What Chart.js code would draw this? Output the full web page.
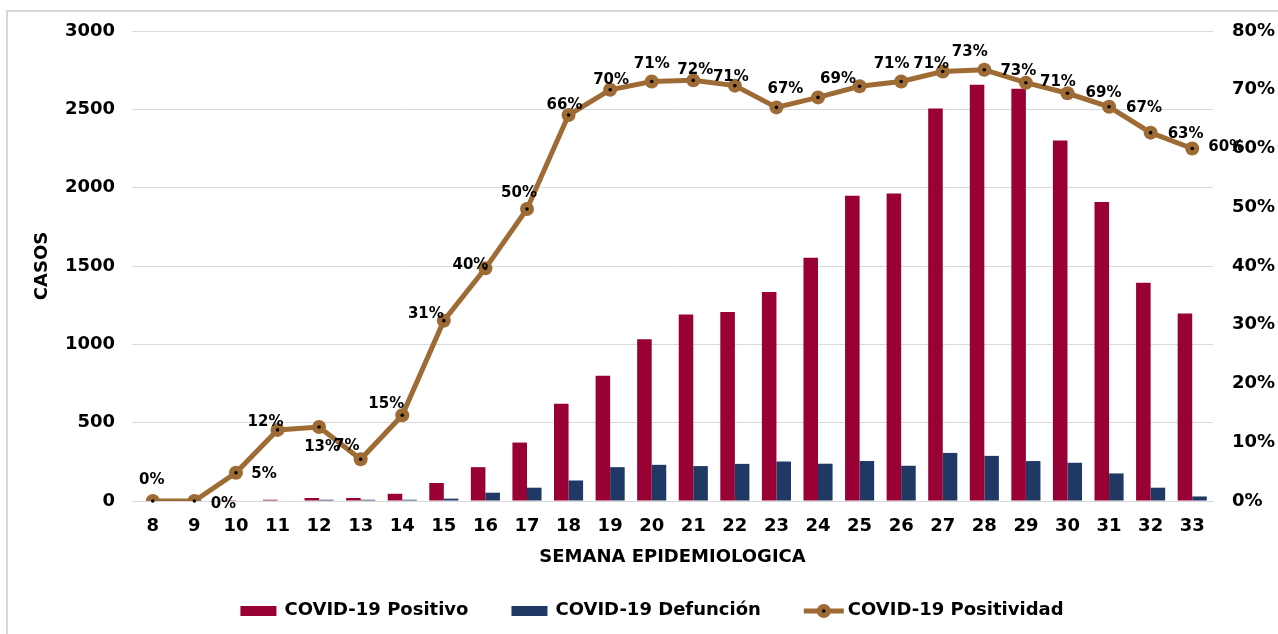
<!DOCTYPE html>
<html>
<head>
<meta charset="utf-8">
<script src="https://cdn.jsdelivr.net/npm/chart.js@4.4.0/dist/chart.umd.min.js"></script>
<style>
    html, body { margin: 0; padding: 0; background: #fff; }
    #marco { position: absolute; left: 6px; top: 10px; width: 1272px; height: 624px; border-left: 2px solid #d9d9d9; border-top: 2px solid #d9d9d9; box-sizing: border-box; }
    #contenedor { position: absolute; left: 0; top: 0; width: 1278px; height: 634px; }
</style>
</head>
<body>
<div id="marco"></div>
<div id="contenedor"><canvas id="myChart"></canvas></div>
<script>
// semanas epidemiologicas
var semanas = ['8', '9', '10', '11', '12', '13', '14', '15', '16', '17', '18', '19', '20',
    '21', '22', '23', '24', '25', '26', '27', '28', '29', '30', '31', '32', '33'];

// casos (eje izquierdo)
var positivo = [0, 0, 1, 8, 19, 19, 46, 115, 216, 373, 620, 800, 1032,
    1191, 1206, 1334, 1553, 1948, 1963, 2505, 2657, 2632, 2301, 1908, 1393, 1197];
var defuncion = [0, 0, 0, 0, 8, 8, 8, 15, 53, 85, 131, 216, 231,
    223, 237, 252, 238, 255, 225, 307, 288, 255, 244, 176, 85, 29];

// positividad en % (eje derecho)
var positividad = [0, 0, 4.8, 12.1, 12.6, 7.1, 14.6, 30.7, 39.6, 49.7, 65.7, 70.0, 71.4,
    71.6, 70.7, 67.0, 68.7, 70.6, 71.4, 73.1, 73.4, 71.2, 69.4, 67.1, 62.7, 60.0];

// ejes
var maxCasos = 3000, pasoCasos = 500;
var maxPct = 80, pasoPct = 10;

// donde va cada etiqueta de % respecto a su punto (dx, dy)
var desplazaEtiqueta = [[-1, -22], [29, 2], [28, 0], [-12, -9], [3, 19], [-14, -14], [-16, -12],
    [-18, -8], [-15, -4], [-8, -17], [-4, -11], [1, -11], [0, -18], [2, -11], [-4, -10],
    [9, -19], [20, -19], [32, -23], [30, -18], [27, -20], [34, 0], [32, -2], [36, -1],
    [35, 0], [35, 0], [34, -2]];

var fuente = '"DejaVu Sans", sans-serif';
var colorPositivo = '#990033';
var colorDefuncion = '#203864';
var colorLinea = '#9E6B35';

var etiquetas = {
    id: 'etiquetas',
    afterDatasetsDraw: function (chart) {
        var ctx = chart.ctx;
        var meta = chart.getDatasetMeta(2);
        ctx.save();
        ctx.fillStyle = '#000';
        meta.data.forEach(function (pt) {
            ctx.beginPath();
            ctx.arc(pt.x, pt.y, 1.8, 0, Math.PI * 2);
            ctx.fill();
        });
        ctx.font = 'bold 15px ' + fuente;
        ctx.textAlign = 'center';
        ctx.textBaseline = 'middle';
        meta.data.forEach(function (pt, i) {
            var d = desplazaEtiqueta[i];
            ctx.fillText(Math.round(positividad[i]) + '%', pt.x + d[0], pt.y + d[1] + 1);
        });
        ctx.restore();
    }
};

var leyenda = {
    id: 'leyenda',
    afterDraw: function (chart) {
        var ctx = chart.ctx;
        var ds = chart.data.datasets;
        var y = 611;
        var hueco = 43;
        ctx.save();
        ctx.font = 'bold 18px ' + fuente;
        ctx.textBaseline = 'middle';
        ctx.textAlign = 'left';
        var anchos = ds.map(function (d) { return 40 + 4 + ctx.measureText(d.label).width; });
        var total = anchos.reduce(function (a, b) { return a + b; }, 0) + hueco * (ds.length - 1);
        var x = 652 - total / 2;
        ds.forEach(function (d, i) {
            if (d.type === 'line') {
                ctx.strokeStyle = colorLinea;
                ctx.lineWidth = 5;
                ctx.beginPath();
                ctx.moveTo(x, y);
                ctx.lineTo(x + 40, y);
                ctx.stroke();
                ctx.fillStyle = colorLinea;
                ctx.beginPath();
                ctx.arc(x + 20, y, 7, 0, Math.PI * 2);
                ctx.fill();
                ctx.fillStyle = '#000';
                ctx.beginPath();
                ctx.arc(x + 20, y, 1.8, 0, Math.PI * 2);
                ctx.fill();
            } else {
                ctx.fillStyle = d.backgroundColor;
                ctx.fillRect(x, y - 5, 36, 10);
            }
            ctx.fillStyle = '#000';
            ctx.fillText(d.label, x + 44, y - 1);
            x += anchos[i] + hueco;
        });
        ctx.restore();
    }
};

var ctx = document.getElementById('myChart').getContext('2d');
new Chart(ctx, {
    type: 'bar',
    data: {
        labels: semanas,
        datasets: [{
            label: 'COVID-19 Positivo',
            data: positivo,
            backgroundColor: colorPositivo,
            yAxisID: 'y',
            order: 2
        },
        {
            label: 'COVID-19 Defunción',
            data: defuncion,
            backgroundColor: colorDefuncion,
            yAxisID: 'y',
            order: 2
        },
        {
            type: 'line',
            label: 'COVID-19 Positividad',
            data: positividad,
            borderColor: colorLinea,
            backgroundColor: colorLinea,
            borderWidth: 5,
            pointRadius: 7,
            pointBorderWidth: 0,
            pointBackgroundColor: colorLinea,
            tension: 0,
            yAxisID: 'y1',
            order: 0
        }]
    },
    options: {
        responsive: true,
        maintainAspectRatio: false,
        animation: false,
        layout: { padding: { top: 31, bottom: 58, left: 0, right: 0 } },
        datasets: {
            bar: { categoryPercentage: 0.7, barPercentage: 1.0 }
        },
        plugins: {
            legend: { display: false },
            tooltip: { enabled: false }
        },
        scales: {
            x: {
                grid: { display: false, drawTicks: false },
                border: { color: '#d9d9d9', width: 1 },
                ticks: { color: '#000', font: { family: fuente, size: 18, weight: 'bold' }, padding: 15, maxRotation: 0 },
                title: {
                    display: true, text: 'SEMANA EPIDEMIOLOGICA', color: '#000',
                    font: { family: fuente, size: 18, weight: 'bold' }, padding: { top: 6, bottom: 8 }
                },
                afterFit: function (scale) { scale.height = 75; }
            },
            y: {
                position: 'left',
                min: 0,
                max: maxCasos,
                ticks: {
                    stepSize: pasoCasos, color: '#000', font: { family: fuente, size: 18, weight: 'bold' }, padding: 17,
                    callback: function (v) { return String(v); }
                },
                grid: { color: '#d9d9d9', lineWidth: 1, drawTicks: false },
                border: { display: false },
                title: {
                    display: true, text: 'CASOS', color: '#000',
                    font: { family: fuente, size: 18, weight: 'bold' }, padding: { top: 32, bottom: 0 }
                },
                afterFit: function (scale) { scale.width = 132; }
            },
            y1: {
                position: 'right',
                min: 0,
                max: maxPct,
                ticks: {
                    stepSize: pasoPct, color: '#000', font: { family: fuente, size: 18, weight: 'bold' }, padding: 19,
                    callback: function (v) { return v + '%'; }
                },
                grid: { display: false, drawTicks: false },
                border: { display: false },
                afterFit: function (scale) { scale.width = 65; }
            }
        }
    },
    plugins: [etiquetas, leyenda]
});
</script>
</body>
</html>
